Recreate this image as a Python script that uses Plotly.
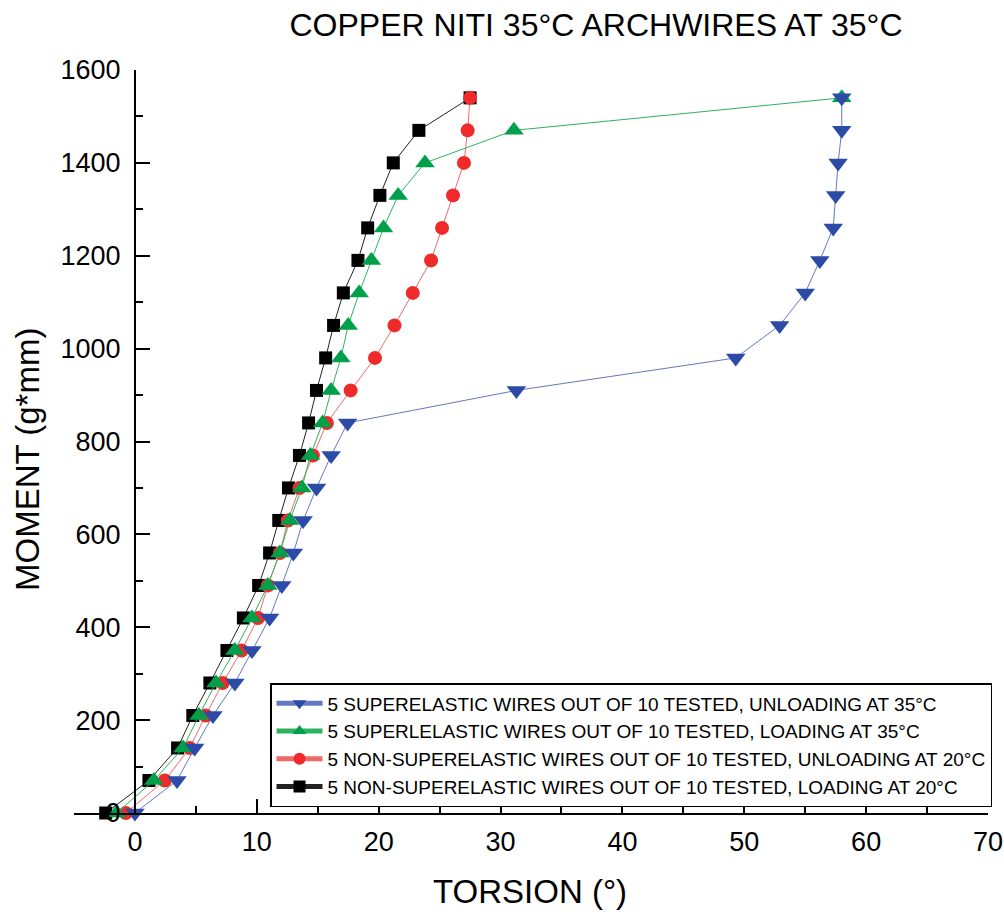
import plotly.graph_objects as go

# Moment levels (g*mm), shared by all series
moment = [0, 70, 140, 210, 280, 350, 420, 490, 560, 630, 700, 770, 840,
          910, 980, 1050, 1120, 1190, 1260, 1330, 1400, 1470, 1540]

# Torsion (deg) per series
torsion_nonse_load20 = [-2.4, 1.15, 3.5, 4.75, 6.15, 7.55, 8.9, 10.15, 11.05, 11.8, 12.6, 13.5, 14.25,
                        14.9, 15.65, 16.3, 17.1, 18.3, 19.1, 20.1, 21.2, 23.3, 27.5]
torsion_nonse_unload20 = [-0.75, 2.45, 4.5, 5.8, 7.2, 8.75, 10.1, 10.9, 11.9, 12.55, 13.5, 14.6, 15.75,
                          17.7, 19.7, 21.3, 22.8, 24.3, 25.2, 26.1, 27.0, 27.3, 27.5]
torsion_se_load35 = [-1.5, 1.55, 3.95, 5.25, 6.65, 8.2, 9.6, 10.9, 11.9, 12.7, 13.7, 14.4, 15.4,
                     16.1, 16.9, 17.5, 18.4, 19.4, 20.4, 21.6, 23.8, 31.1, 58.0]
torsion_se_unload35 = [0.0, 3.45, 4.9, 6.4, 8.2, 9.6, 11.05, 12.05, 13.0, 13.8, 14.9, 16.1, 17.45,
                       31.3, 49.3, 52.9, 55.0, 56.2, 57.3, 57.5, 57.7, 58.0, 58.0]

names = [
    "5 NON-SUPERELASTIC WIRES OUT OF 10 TESTED, LOADING AT 20°C",
    "5 NON-SUPERELASTIC WIRES OUT OF 10 TESTED, UNLOADING AT 20°C",
    "5 SUPERLELASTIC WIRES OUT OF 10 TESTED, LOADING AT 35°C",
    "5 SUPERELASTIC WIRES OUT OF 10 TESTED, UNLOADING AT 35°C",
]
series = [torsion_nonse_load20, torsion_nonse_unload20, torsion_se_load35, torsion_se_unload35]
line_colors = ["#222222", "#F06A6A", "#2DB35E", "#6479C2"]
marker_colors = ["#000000", "#EE2A2A", "#00A04A", "#2C4BA6"]
symbols = ["square", "circle", "triangle-up", "triangle-down"]
sizes = [13, 14, 17, 17]

FONT = "Arial, 'Liberation Sans', sans-serif"

fig = go.Figure()
for nm, xs, lc, mc, sym, sz in zip(names, series, line_colors, marker_colors, symbols, sizes):
    fig.add_trace(go.Scatter(
        x=xs, y=moment, mode="lines+markers", name=nm,
        line=dict(color=lc, width=1),
        marker=dict(symbol=sym, size=sz, color=mc, line=dict(width=0)),
        cliponaxis=False,
    ))

W, H = 1004, 915
# plot area in page pixels
PX0, PX1, PY0, PY1 = 74, 988, 70, 813
L, T = PX0, PY0
PW, PH = PX1 - PX0, PY1 - PY0
R, B = W - L - PW, H - T - PH
xmin, xmax = -5, 70


def px(xp):
    return (xp - PX0) / PW


def py(yp):
    return (PY1 - yp) / PH


fig.update_layout(
    width=W, height=H, autosize=False,
    margin=dict(l=L, r=R, t=T, b=B, autoexpand=False),
    plot_bgcolor="white", paper_bgcolor="white",
    font=dict(family=FONT, color="black"),
    title=dict(text="COPPER NITI 35°C ARCHWIRES AT 35°C", font=dict(size=32, family=FONT),
               xref="paper", x=px(596), xanchor="center", yref="container",
               y=1 - 25 / H, yanchor="middle"),
    showlegend=True,
    legend=dict(x=px(270), y=py(683), xanchor="left", yanchor="top",
                bordercolor="black", borderwidth=1.5, bgcolor="white",
                font=dict(size=19, family=FONT), traceorder="reversed",
                tracegroupgap=0, itemsizing="constant", itemwidth=46),
    xaxis=dict(range=[xmin, xmax], showgrid=False, zeroline=False, showline=True, linecolor="black",
               linewidth=2, ticks="inside", ticklen=14, tickwidth=2, tickcolor="black",
               tick0=0, dtick=10, tickfont=dict(size=27, family=FONT),
               minor=dict(ticks="inside", ticklen=7, tickwidth=2, tickcolor="black", dtick=5, tick0=0),
               ticklabelstandoff=4, automargin=False),
    yaxis=dict(range=[0, 1600], showgrid=False, zeroline=False, showline=True, linecolor="black",
               linewidth=2, ticks="inside", ticklen=14, tickwidth=2, tickcolor="black",
               tick0=0, dtick=200, tickfont=dict(size=27, family=FONT),
               minor=dict(ticks="inside", ticklen=7, tickwidth=2, tickcolor="black", dtick=100, tick0=0),
               anchor="free", position=(0 - xmin) / (xmax - xmin), ticklabelstandoff=8,
               automargin=False),
    annotations=[
        dict(text="TORSION (°)", xref="paper", yref="paper", x=px(530), y=py(891),
             xanchor="center", yanchor="middle", showarrow=False, font=dict(size=33, family=FONT)),
        dict(text="MOMENT (g*mm)", xref="paper", yref="paper", x=px(28), y=py(460),
             xanchor="center", yanchor="middle", textangle=-90,
             showarrow=False, font=dict(size=33, family=FONT)),
    ],
)

fig.write_html(
    "out.html",
    config={"responsive": False, "displayModeBar": False},
    post_script="document.body.style.margin='0px';document.body.style.overflow='hidden';",
)
